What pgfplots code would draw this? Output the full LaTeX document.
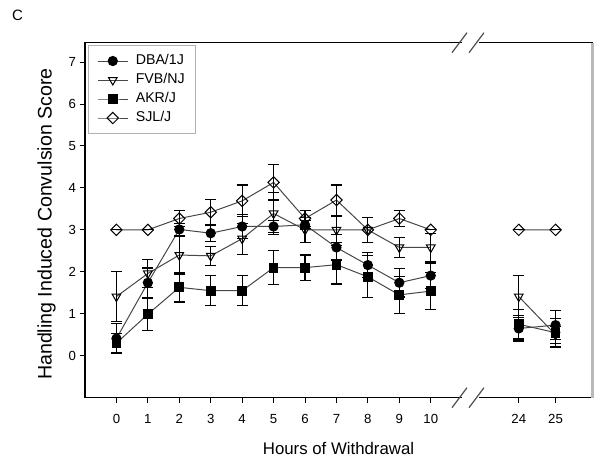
\documentclass[border=0pt]{standalone}
\usepackage{fontspec}
\setmainfont{Liberation Sans}
\usepackage{pgfplots}
\pgfplotsset{compat=1.18}
\usepackage{pgfplotstable}

% pos = place on the x axis (12.8 and 13.97 stand for 24 h and 25 h, right of the break)
% y = mean score, e = error
\pgfplotstableread{
pos   y     e
0     0.41  0.35
1     1.74  0.35
2     3.01  0.15
3     2.92  0.20
4     3.08  0.28
5     3.08  0.15
6     3.12  0.10
7     2.58  0.30
8     2.16  0.30
9     1.74  0.34
10    1.91  0.30
nan   nan   nan
12.8  0.65  0.30
13.97 0.73  0.34
}\dba
\pgfplotstableread{
pos   y     e
0     1.41  0.60
1     1.96  0.34
2     2.40  0.45
3     2.38  0.22
4     2.79  0.37
5     3.39  0.50
6     3.00  0.30
7     3.00  0.31
8     3.00  0.30
9     2.58  0.24
10    2.58  0.33
nan   nan   nan
12.8  1.41  0.50
13.97 0.50  0.20
}\fvb
\pgfplotstableread{
pos   y     e
0     0.30  0.23
1     0.99  0.38
2     1.63  0.35
3     1.55  0.36
4     1.55  0.36
5     2.10  0.41
6     2.10  0.30
7     2.17  0.46
8     1.88  0.50
9     1.45  0.44
10    1.54  0.44
nan   nan   nan
12.8  0.75  0.35
13.97 0.55  0.34
}\akr
\pgfplotstableread{
pos   y     e
0     3.00  0
1     3.00  0
2     3.27  0.19
3     3.42  0.31
4     3.69  0.38
5     4.13  0.42
6     3.27  0.19
7     3.71  0.36
8     3.00  0.30
9     3.27  0.19
10    3.00  0
nan   nan   nan
12.8  3.00  0
13.97 3.00  0
}\sjl

\begin{document}
\begin{tikzpicture}
\useasboundingbox (0,0) rectangle (600bp,462bp);
\begin{axis}[
  at={(85bp,64.3bp)}, anchor=south west,
  scale only axis, width=507bp, height=355bp,
  xmin=-1, xmax=15.13, ymin=-1, ymax=7.46,
  xtick={0,1,2,3,4,5,6,7,8,9,10,12.8,13.97},
  xticklabels={0,1,2,3,4,5,6,7,8,9,10,24,25},
  ytick={0,1,2,3,4,5,6,7},
  xtick pos=lower, ytick pos=left,
  tick align=outside, major tick length=5.5bp,
  tick style={black, line width=0.9bp},
  axis line style={line width=1.1bp},
  tick label style={font=\fontsize{13.2bp}{15bp}\selectfont},
  xticklabel style={yshift=-7.5bp},
  /pgf/number format/assume math mode=true,
  xlabel={Hours of Withdrawal},
  xlabel style={at={(axis description cs:0.5,-0.1586)}, anchor=base, font=\fontsize{16.8bp}{19bp}\selectfont},
  ylabel={Handling Induced Convulsion Score},
  ylabel style={at={(axis description cs:-0.066,0.489)}, anchor=base, font=\fontsize{19.6bp}{22bp}\selectfont},
  unbounded coords=jump,
  every axis plot/.append style={line width=1bp},
  error bars/y dir=both, error bars/y explicit,
  error bars/error bar style={black, line width=1.2bp, solid},
  error bars/error mark options={rotate=90, mark size=5.5bp, black, line width=1.2bp},
  legend style={at={(0.0065,0.9935)}, anchor=north west, draw=gray!60,
    line width=1bp, font=\fontsize{14.2bp}{16bp}\selectfont, row sep=4bp,
    column sep=5bp, inner xsep=8.5bp, inner ysep=8bp,
    nodes={inner xsep=2.5bp, inner ysep=1bp, text height=10bp, text depth=3bp}},
  legend cell align=left,
  legend image code/.code={\draw[mark repeat=2,mark phase=2,#1] plot coordinates {(0bp,0bp) (15bp,0bp) (30bp,0bp)};},
]
\addplot[black!72, mark=*, mark size=4.6bp, mark options={draw=black, fill=black}]
  table[x=pos, y=y, y error=e] {\dba};
\addlegendentry{DBA/1J}
\addplot[black!72, mark=triangle, mark size=5bp, mark options={draw=black, fill=white, rotate=180}]
  table[x=pos, y=y, y error=e] {\fvb};
\addlegendentry{FVB/NJ}
\addplot[black!72, mark=square*, mark size=4.4bp, mark options={draw=black, fill=black}]
  table[x=pos, y=y, y error=e] {\akr};
\addlegendentry{AKR/J}
\addplot[black!72, mark=square, mark size=4bp, mark options={draw=black, fill=white, rotate=45}]
  table[x=pos, y=y, y error=e] {\sjl};
\addlegendentry{SJL/J}
\end{axis}
% right edge of the frame is light grey
\draw[gray!55, line width=2.5bp] (592.5bp,64.3bp) -- (592.5bp,419.3bp);
% axis break marks, top and bottom
\foreach \yy in {419.3,64.3} {
  \fill[white] (462bp,\yy bp-2bp) rectangle (479bp,\yy bp+2bp);
  \draw[black!70, line width=1.2bp] (452bp,\yy bp-10bp) -- (467bp,\yy bp+10bp);
  \draw[black!70, line width=1.2bp] (469bp,\yy bp-10bp) -- (484bp,\yy bp+10bp);
}
\node[anchor=base west, inner sep=0pt, font=\fontsize{15bp}{17bp}\selectfont] at (12bp,441bp) {C};
\end{tikzpicture}
\end{document}
